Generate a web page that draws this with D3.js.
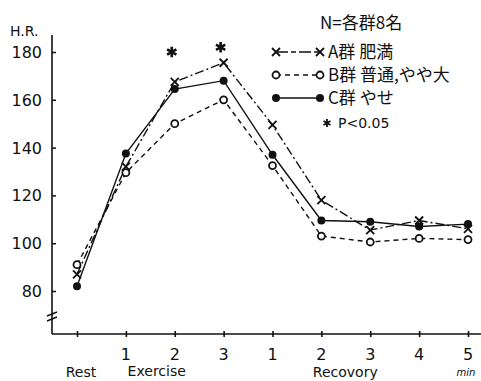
<!DOCTYPE html>
<html><head><meta charset="utf-8">
<script src="https://cdn.jsdelivr.net/npm/d3@7"></script>
<style>html,body{margin:0;padding:0;background:#fff;}svg{display:block;}</style>
</head><body>
<script>
const categories = ["Rest","1","2","3","1","2","3","4","5"];
const groupA = [87, 132, 167.5, 175.5, 149.5, 118, 105.5, 109.5, 106];
const groupB = [91, 129.5, 150, 160, 132.5, 103, 100.5, 102, 101.5];
const groupC = [82, 137.5, 164.5, 168, 137, 109.5, 109, 107, 108];
const sigIndex = [2, 3];
const sigValue = [180, 182];
const yTicks = [80, 100, 120, 140, 160, 180];
const legendLabels = ["A群 肥満", "B群 普通,やや大", "C群 やせ", "P<0.05"];

const W = 481, H = 381;
const svg = d3.select("body").append("svg").attr("width", W).attr("height", H);
const ink = "#111";
const font = "'DejaVu Sans', sans-serif";
const cjk = "'Noto Sans CJK JP', sans-serif";

const x = d3.scaleLinear().domain([0, 8]).range([77, 468]);
const y = d3.scaleLinear().domain([80, 180]).range([291, 52]);
const yBottom = 334, xLeft = 52;

// y axis line
svg.append("line").attr("x1", xLeft).attr("x2", xLeft).attr("y1", 35).attr("y2", yBottom)
  .attr("stroke", ink).attr("stroke-width", 1.6);
// y ticks
const yAxis = d3.axisRight(y).tickValues(yTicks).tickSize(4).tickFormat("");
const gy = svg.append("g").attr("transform", `translate(${xLeft},0)`).call(yAxis);
gy.select(".domain").remove();
gy.selectAll("line").attr("stroke", ink).attr("stroke-width", 1.5);
svg.selectAll(".ylab").data(yTicks).enter().append("text")
  .attr("x", 42).attr("y", d => y(d) + 6).attr("text-anchor", "end")
  .attr("font-family", font).attr("font-size", 16).attr("fill", ink).text(d => d);
svg.append("text").attr("x", 10).attr("y", 36).attr("font-family", font)
  .attr("font-size", 14).attr("fill", ink).text("H.R.");
// break mark
[0, 5].forEach(o => svg.append("line").attr("x1", xLeft - 5).attr("x2", xLeft + 5)
  .attr("y1", 314 + o + 2).attr("y2", 314 + o - 2).attr("stroke", ink).attr("stroke-width", 1.4));

// x axis
svg.append("line").attr("x1", xLeft).attr("x2", W).attr("y1", yBottom).attr("y2", yBottom)
  .attr("stroke", ink).attr("stroke-width", 1.6);
const xAxis = d3.axisBottom(x).tickValues(d3.range(categories.length)).tickSize(3).tickFormat("");
const gx = svg.append("g").attr("transform", `translate(0,${yBottom})`).call(xAxis);
gx.select(".domain").remove();
gx.selectAll("line").attr("y1", -3).attr("stroke", ink).attr("stroke-width", 1.6);
svg.selectAll(".xlab").data(categories).enter().filter((d, i) => i > 0).append("text")
  .attr("x", (d, i) => x(i + 1)).attr("y", 360).attr("text-anchor", "middle")
  .attr("font-family", font).attr("font-size", 16).attr("fill", ink).text(d => d);
svg.append("text").attr("x", x(0) + 4).attr("y", 377).attr("text-anchor", "middle")
  .attr("font-family", font).attr("font-size", 14).attr("fill", ink).text(categories[0]);
svg.append("text").attr("x", (x(1) + x(3)) / 2 - 18).attr("y", 376).attr("text-anchor", "middle")
  .attr("font-family", font).attr("font-size", 14).attr("fill", ink).text("Exercise");
svg.append("text").attr("x", (x(4) + x(8)) / 2 - 25).attr("y", 377).attr("text-anchor", "middle")
  .attr("font-family", font).attr("font-size", 14).attr("fill", ink).text("Recovory");
svg.append("text").attr("x", 466).attr("y", 376).attr("text-anchor", "middle")
  .attr("font-family", font).attr("font-size", 10).attr("font-style", "italic").attr("fill", ink).text("min");

// series
const series = [
  {vals: groupA, dash: "9,3,2,3", marker: "x"},
  {vals: groupB, dash: "5,4", marker: "o"},
  {vals: groupC, dash: null, marker: "dot"}
];
const line = d3.line().x((d, i) => x(i)).y(d => y(d));
function drawMarker(g, m, cx, cy) {
  if (m === "x") {
    g.append("path").attr("d", `M${cx-4},${cy-4}L${cx+4},${cy+4}M${cx-4},${cy+4}L${cx+4},${cy-4}`)
      .attr("stroke", ink).attr("stroke-width", 1.8).attr("fill", "none");
  } else if (m === "o") {
    g.append("circle").attr("cx", cx).attr("cy", cy).attr("r", 3.5)
      .attr("fill", "#fff").attr("stroke", ink).attr("stroke-width", 1.8);
  } else {
    g.append("circle").attr("cx", cx).attr("cy", cy).attr("r", 4).attr("fill", ink);
  }
}
series.forEach(s => {
  const p = svg.append("path").datum(s.vals).attr("d", line).attr("fill", "none")
    .attr("stroke", ink).attr("stroke-width", 1.4);
  if (s.dash) p.attr("stroke-dasharray", s.dash);
});
series.forEach(s => {
  const g = svg.append("g");
  s.vals.forEach((v, i) => drawMarker(g, s.marker, x(i), y(v)));
});

// significance stars
const star = d3.symbol().type(d3.symbolAsterisk).size(80);
sigIndex.forEach((xi, k) => svg.append("path").attr("d", star())
  .attr("transform", `translate(${x(xi) - 3},${y(sigValue[k])})`)
  .attr("stroke", ink).attr("stroke-width", 2.6).attr("fill", "none"));

// legend
svg.append("text").attr("x", 320).attr("y", 29).attr("font-family", cjk)
  .attr("font-size", 17).attr("fill", ink).text("N=各群8名");
const lg = svg.append("g");
series.forEach((s, k) => {
  const ly = 52 + k * 23;
  const l = lg.append("line").attr("x1", 276).attr("x2", 320).attr("y1", ly).attr("y2", ly)
    .attr("stroke", ink).attr("stroke-width", 1.4);
  if (s.dash) l.attr("stroke-dasharray", s.marker === "x" ? "12,3,5,3" : "5,4");
  drawMarker(lg, s.marker, 276, ly);
  drawMarker(lg, s.marker, 320, ly);
  lg.append("text").attr("x", 328).attr("y", ly + 6).attr("font-family", cjk)
    .attr("font-size", 17).attr("fill", ink).text(legendLabels[k]);
});
lg.append("path").attr("d", d3.symbol().type(d3.symbolAsterisk).size(45)())
  .attr("transform", "translate(327,123)").attr("stroke", ink).attr("stroke-width", 1.8).attr("fill", "none");
lg.append("text").attr("x", 338).attr("y", 128).attr("font-family", font)
  .attr("font-size", 14).attr("fill", ink).text(legendLabels[3]);
</script>
</body></html>
